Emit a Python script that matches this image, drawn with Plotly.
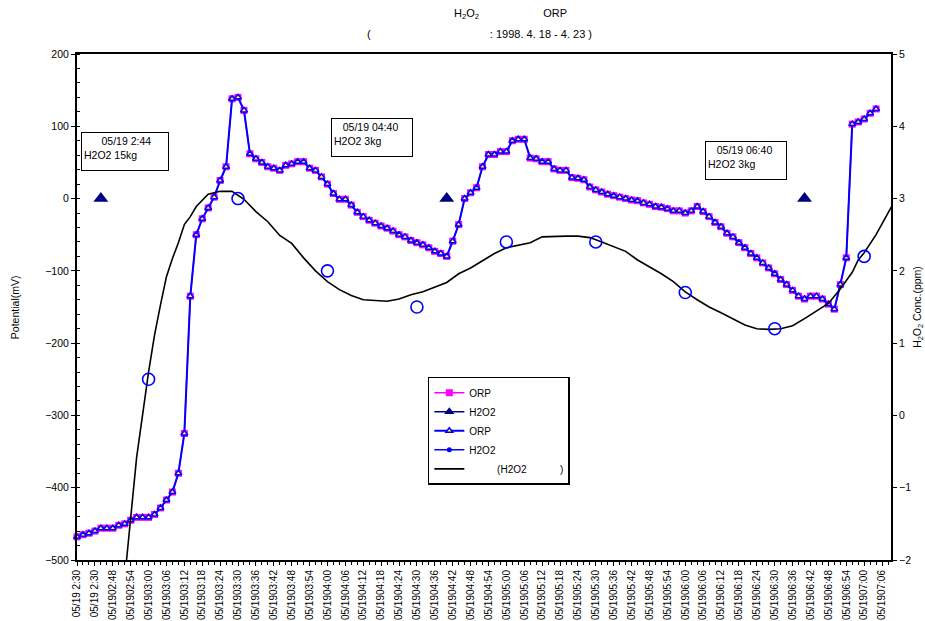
import plotly.graph_objects as go

FONT = "Liberation Sans, Arial, sans-serif"
NB = "\u00a0"

# ---- category axis (one category = 2 minutes, a label every 3rd category) ----
time_labels = [
    "05/19 2:30", "05/19 2:30",
    "05/1902:48", "05/1902:54",
    "05/1903:00", "05/1903:06", "05/1903:12", "05/1903:18", "05/1903:24",
    "05/1903:30", "05/1903:36", "05/1903:42", "05/1903:48", "05/1903:54",
    "05/1904:00", "05/1904:06", "05/1904:12", "05/1904:18", "05/1904:24",
    "05/1904:30", "05/1904:36", "05/1904:42", "05/1904:48", "05/1904:54",
    "05/1905:00", "05/1905:06", "05/1905:12", "05/1905:18", "05/1905:24",
    "05/1905:30", "05/1905:36", "05/1905:42", "05/1905:48", "05/1905:54",
    "05/1906:00", "05/1906:06", "05/1906:12", "05/1906:18", "05/1906:24",
    "05/1906:30", "05/1906:36", "05/1906:42", "05/1906:48", "05/1906:54",
    "05/1907:00", "05/1907:06",
]
label_idx = [3 * k for k in range(len(time_labels))]

# ---- ORP (mV), one value per category ----
orp_mv = [
    -468, -465, -463, -460, -456, -456, -456, -452, -450, -445,
    -441, -441, -441, -437, -428, -417, -406, -380, -325, -135,
    -50, -28, -13, 2, 25, 44, 138, 140, 122, 62,
    55, 50, 44, 42, 39, 46, 48, 51, 51, 42,
    39, 30, 20, 7, -1, -1, -9, -19, -25, -30,
    -34, -38, -41, -45, -50, -53, -58, -61, -64, -68,
    -73, -76, -80, -59, -36, 0, 8, 15, 44, 61,
    61, 65, 65, 80, 82, 82, 56, 55, 51, 51,
    41, 39, 39, 29, 28, 26, 16, 12, 9, 6,
    4, 2, 0, -2, -3, -6, -8, -11, -12, -14,
    -17, -17, -20, -17, -11, -18, -25, -33, -39, -48,
    -53, -61, -68, -76, -82, -89, -96, -104, -112, -119,
    -127, -135, -139, -135, -135, -139, -146, -153, -119, -82,
    103, 106, 110, 118, 124,
]
orp_idx = list(range(len(orp_mv)))

# ---- H2O2 dosing events (mV axis) ----
dose_idx = [4, 62, 122]
dose_mv = [0, 0, 0]
dose_notes = [
    NB * 6 + "05/19 2:44<br>H2O2 15kg",
    NB * 3 + "05/19 04:40<br>H2O2 3kg",
    NB * 3 + "05/19 06:40<br>H2O2 3kg",
]

# ---- measured H2O2 (ppm, right axis) ----
h2o2_meas_idx = [12, 27, 42, 57, 72, 87, 102, 117, 132]
h2o2_meas_ppm = [0.5, 3.0, 2.0, 1.5, 2.4, 2.4, 1.7, 1.2, 2.2]

# ---- calculated H2O2 (ppm, right axis) ----
h2o2_calc_idx = [7, 9, 10, 12, 13, 14, 15, 16, 17, 18, 19, 20, 22, 24, 26, 28, 30,
                 32, 34, 36, 38, 40, 42, 44, 46, 48, 50, 52, 54, 56, 58, 60, 62,
                 64, 66, 68, 70, 72, 74, 76, 78, 80, 82, 84, 86, 88, 90, 92, 94,
                 96, 98, 100, 102, 104, 106, 108, 110, 112, 114, 116, 118, 120,
                 122, 124, 126, 128, 130, 131, 132, 134, 136, 137]
h2o2_calc_ppm = [-3.1, -1.41, -0.58, 0.60, 1.11, 1.53, 1.92, 2.17, 2.39, 2.64, 2.75,
                 2.89, 3.06, 3.10, 3.10, 2.99, 2.82, 2.68, 2.49, 2.38, 2.18, 2.00,
                 1.85, 1.74, 1.66, 1.60, 1.59, 1.58, 1.61, 1.67, 1.71, 1.78, 1.84,
                 1.96, 2.04, 2.14, 2.24, 2.32, 2.36, 2.39, 2.47, 2.48, 2.48, 2.48,
                 2.46, 2.40, 2.33, 2.27, 2.15, 2.06, 1.96, 1.85, 1.71, 1.60, 1.50,
                 1.42, 1.34, 1.25, 1.20, 1.19, 1.20, 1.24, 1.34, 1.45, 1.55, 1.75,
                 1.98, 2.15, 2.25, 2.50, 2.80, 2.95]

MAGENTA = "#FF00FF"
NAVY = "#000080"
BLUE = "#0000FF"

fig = go.Figure()

# calculated H2O2 curve (right axis)
fig.add_trace(go.Scatter(
    x=h2o2_calc_idx, y=h2o2_calc_ppm, yaxis="y2", mode="lines",
    line=dict(color="black", width=1.6),
    name=NB * 10 + "(H2O2" + NB * 12 + ")", legendrank=5,
))
# ORP (magenta squares)
fig.add_trace(go.Scatter(
    x=orp_idx, y=orp_mv, mode="lines+markers",
    line=dict(color=MAGENTA, width=1.5),
    marker=dict(symbol="square", size=7, color=MAGENTA),
    name="ORP", legendrank=1, cliponaxis=False,
))
# ORP (blue open triangles)
fig.add_trace(go.Scatter(
    x=orp_idx, y=orp_mv, mode="lines+markers",
    line=dict(color=BLUE, width=2),
    marker=dict(symbol="triangle-up", size=6, color="#FFFF33",
                line=dict(color=BLUE, width=1.5)),
    name="ORP", legendrank=3, cliponaxis=False,
))
# H2O2 dosing markers
fig.add_trace(go.Scatter(
    x=dose_idx, y=dose_mv, mode="markers",
    marker=dict(symbol="triangle-up", size=13, color=NAVY),
    showlegend=False, name="H2O2",
))
fig.add_trace(go.Scatter(
    x=[None], y=[None], mode="lines+markers",
    line=dict(color=NAVY, width=1.5),
    marker=dict(symbol="triangle-up", size=9, color=NAVY),
    name="H2O2", legendrank=2,
))
# measured H2O2 (right axis)
fig.add_trace(go.Scatter(
    x=h2o2_meas_idx, y=h2o2_meas_ppm, yaxis="y2", mode="markers",
    marker=dict(symbol="circle-open", size=12, color=BLUE, line=dict(width=1.6)),
    showlegend=False, name="H2O2",
))
fig.add_trace(go.Scatter(
    x=[None], y=[None], mode="lines+markers",
    line=dict(color=BLUE, width=1.5),
    marker=dict(symbol="circle", size=5, color=BLUE),
    name="H2O2", legendrank=4,
))

annotations = []
# dosing note boxes
box_pos = [(0.0049, 0.845, 82), (0.312, 0.874, 76), (0.7715, 0.8275, 76)]
for (bx, by, bw), txt in zip(box_pos, dose_notes):
    annotations.append(dict(
        xref="paper", yref="paper", x=bx, y=by, xanchor="left", yanchor="top",
        text=txt, showarrow=False, align="left", valign="top",
        width=bw, height=33, bordercolor="black", borderwidth=1, borderpad=2,
        bgcolor="white", font=dict(family=FONT, size=10.5, color="black"),
    ))
# titles
annotations.append(dict(
    xref="paper", yref="paper", x=0.533, y=1.079, xanchor="center", yanchor="middle",
    text="H<sub>2</sub>O<sub>2</sub>" + NB * 21 + "ORP", showarrow=False,
    font=dict(family=FONT, size=11, color="black"),
))
annotations.append(dict(
    xref="paper", yref="paper", x=0.495, y=1.0395, xanchor="center", yanchor="middle",
    text="(" + NB * 39 + ": 1998. 4. 18 - 4. 23 )", showarrow=False,
    font=dict(family=FONT, size=11, color="black"),
))
# axis titles
annotations.append(dict(
    xref="paper", yref="paper", x=-0.076, y=0.5, xanchor="center", yanchor="middle",
    text="Potential(mV)", textangle=-90, showarrow=False,
    font=dict(family=FONT, size=10.5, color="black"),
))
annotations.append(dict(
    xref="paper", yref="paper", x=1.033, y=0.5, xanchor="center", yanchor="middle",
    text="H<sub>2</sub>O<sub>2</sub> Conc.(ppm)", textangle=-90, showarrow=False,
    font=dict(family=FONT, size=10.5, color="black"),
))

fig.update_layout(
    width=925, height=621,
    margin=dict(l=77, r=34, t=54, b=61, autoexpand=False),
    paper_bgcolor="white", plot_bgcolor="white",
    font=dict(family=FONT, size=10.5, color="black"),
    showlegend=True,
    legend=dict(
        x=0.431, y=0.362, xanchor="left", yanchor="top",
        bgcolor="white", bordercolor="black", borderwidth=1.5,
        font=dict(family=FONT, size=10, color="black"),
        traceorder="normal", itemwidth=30,
    ),
    annotations=annotations,
    xaxis=dict(
        range=[0, 136.5], showgrid=False, zeroline=False,
        showline=True, linecolor="black", linewidth=2, mirror=True,
        tickmode="array", tickvals=label_idx, ticktext=time_labels,
        tickangle=-90, ticks="outside", ticklen=4, tickcolor="black",
        tickfont=dict(family=FONT, size=10, color="black"),
        minor=dict(tickmode="linear", tick0=0, dtick=1, ticks="outside",
                   ticklen=3, tickcolor="black"),
        automargin=False,
    ),
    yaxis=dict(
        range=[-500, 200], dtick=100, showgrid=False, zeroline=False,
        showline=True, linecolor="black", linewidth=2,
        ticks="outside", ticklen=4, tickcolor="black",
        tickfont=dict(family=FONT, size=10.5, color="black"),
        minor=dict(dtick=20, ticks="inside", ticklen=3, tickcolor="black"),
        automargin=False,
    ),
    yaxis2=dict(
        overlaying="y", side="right", range=[-2, 5], dtick=1,
        showgrid=False, zeroline=False,
        showline=True, linecolor="black", linewidth=2,
        ticks="outside", ticklen=4, tickcolor="black",
        tickfont=dict(family=FONT, size=10.5, color="black"),
        automargin=False,
    ),
)

fig.write_html("out.html")
